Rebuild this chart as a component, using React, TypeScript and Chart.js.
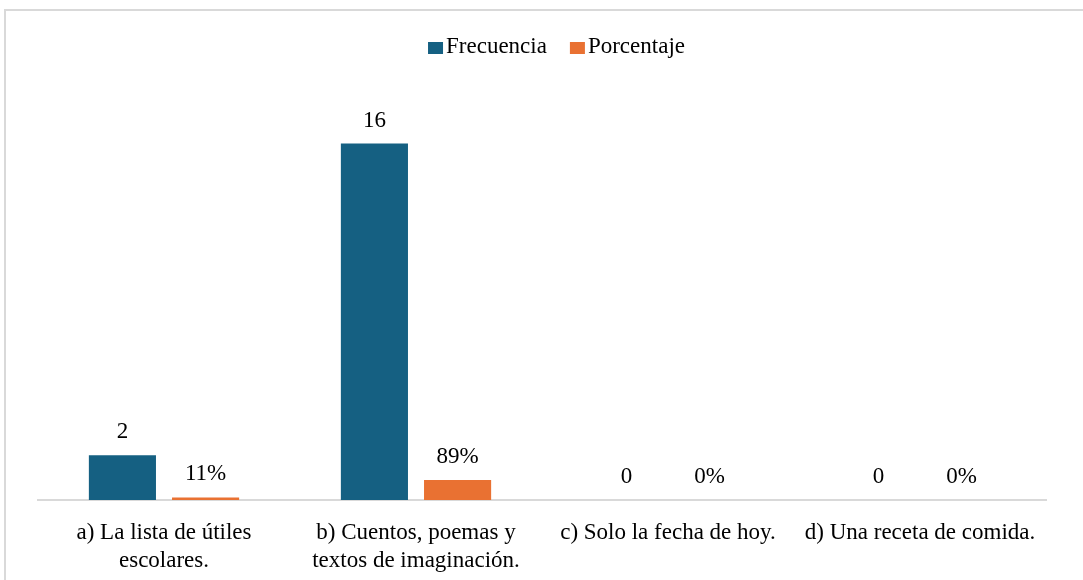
import React, { useEffect, useRef } from "react";
import { Chart, registerables } from "chart.js";

Chart.register(...registerables);

const categories: string[][] = [
  ["a) La lista de útiles", "escolares."],
  ["b) Cuentos, poemas y", "textos de imaginación."],
  ["c) Solo la fecha de hoy."],
  ["d) Una receta de comida."],
];
const frecuencia = [2, 16, 0, 0];
const porcentaje = [0.11, 0.89, 0, 0];
const seriesNames = ["Frecuencia", "Porcentaje"];
const seriesColors = ["#156082", "#E97132"];
const yMax = 18;

const FONT = "'Liberation Serif', 'Times New Roman', serif";
const FS = 23;

const frame = {
  id: "frame",
  beforeDraw(chart: any) {
    const ctx = chart.ctx;
    ctx.save();
    ctx.strokeStyle = "#d9d9d9";
    ctx.lineWidth = 2;
    ctx.strokeRect(5, 10, chart.width + 20, chart.height + 20);
    ctx.restore();
  },
};

const customLegend = {
  id: "customLegend",
  afterDraw(chart: any) {
    const ctx = chart.ctx;
    ctx.save();
    ctx.font = `${FS}px ${FONT}`;
    ctx.textBaseline = "middle";
    ctx.textAlign = "left";
    const boxW = 15;
    const boxH = 12;
    const gap = 3;
    const itemGap = 23;
    const widths = chart.data.datasets.map((d: any) => ctx.measureText(d.label).width);
    let total = 0;
    widths.forEach((w: number, i: number) => {
      total += boxW + gap + w + (i > 0 ? itemGap : 0);
    });
    const cy = 47;
    let x = chart.width / 2 + 15 - total / 2;
    chart.data.datasets.forEach((d: any, i: number) => {
      ctx.fillStyle = d.backgroundColor;
      ctx.fillRect(x, cy - boxH / 2 + 1, boxW, boxH);
      x += boxW + gap;
      ctx.fillStyle = "#000000";
      ctx.fillText(d.label, x, cy);
      x += widths[i] + itemGap;
    });
    ctx.restore();
  },
};

const valueLabels = {
  id: "valueLabels",
  afterDatasetsDraw(chart: any) {
    const ctx = chart.ctx;
    ctx.save();
    ctx.font = `${FS}px ${FONT}`;
    ctx.fillStyle = "#000000";
    ctx.textAlign = "center";
    ctx.textBaseline = "middle";
    chart.data.datasets.forEach((ds: any, di: number) => {
      const meta = chart.getDatasetMeta(di);
      meta.data.forEach((el: any, i: number) => {
        const v = ds.data[i];
        const txt = di === 0 ? String(v) : Math.round(v * 100) + "%";
        ctx.fillText(txt, el.x, el.y - 23);
      });
    });
    ctx.restore();
  },
};

export default function App() {
  const ref = useRef<HTMLCanvasElement>(null);
  useEffect(() => {
    if (!ref.current) return;
    const chart = new Chart(ref.current, {
      type: "bar",
      data: {
        labels: categories,
        datasets: [
          {
            label: seriesNames[0],
            data: frecuencia,
            backgroundColor: seriesColors[0],
            categoryPercentage: 0.66,
            barPercentage: 0.807,
          },
          {
            label: seriesNames[1],
            data: porcentaje,
            backgroundColor: seriesColors[1],
            categoryPercentage: 0.66,
            barPercentage: 0.807,
          },
        ],
      },
      options: {
        animation: false,
        responsive: false,
        maintainAspectRatio: false,
        layout: { padding: { left: 38, right: 37, top: 99, bottom: 6 } },
        plugins: {
          legend: { display: false },
          tooltip: { enabled: false },
        },
        scales: {
          x: {
            grid: { display: false, drawTicks: false },
            border: { display: true, color: "#d9d9d9", width: 2 },
            ticks: {
              font: { family: FONT, size: FS, lineHeight: 1.22 },
              color: "#000000",
              padding: 19,
              maxRotation: 0,
              autoSkip: false,
            },
          },
          y: {
            display: false,
            min: 0,
            max: yMax,
          },
        },
      },
      plugins: [frame, valueLabels, customLegend],
    });
    return () => chart.destroy();
  }, []);
  return (
    <div style={{ position: "absolute", left: 0, top: 0, width: 1083, height: 580, overflow: "hidden" }}>
      <canvas ref={ref} width={1083} height={600} style={{ width: 1083, height: 600 }} />
    </div>
  );
}
